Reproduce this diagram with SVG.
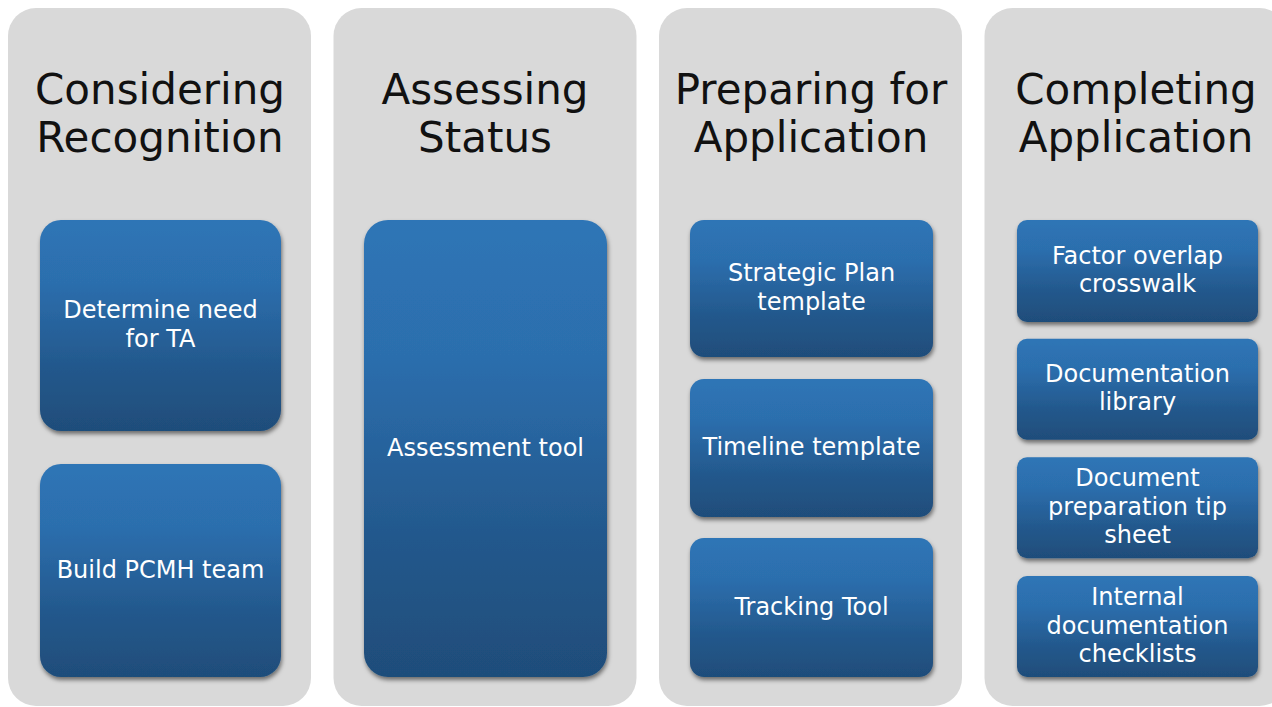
<svg xmlns="http://www.w3.org/2000/svg" width="1272" height="707" viewBox="0 0 1272 707">
  <defs>
    <linearGradient id="boxFill" x1="0" y1="0" x2="0" y2="1">
      <stop offset="0" stop-color="#2E75B6"/>
      <stop offset="0.3" stop-color="#2C6EAD"/>
      <stop offset="0.7" stop-color="#23588C"/>
      <stop offset="1" stop-color="#1F4D7A"/>
    </linearGradient>
    <filter id="boxShadow" x="-10%" y="-10%" width="120%" height="125%">
      <feDropShadow dx="1" dy="3" stdDeviation="2.2" flood-color="#000" flood-opacity="0.5"/>
    </filter>
  </defs>
  <style>
    .col { fill: #D9D9D9; }
    .box { fill: url(#boxFill); filter: url(#boxShadow); }
    .title { font-family: "DejaVu Sans", "Liberation Sans", sans-serif; font-size: 42px; fill: #111111; text-anchor: middle; }
    .label { font-family: "DejaVu Sans", "Liberation Sans", sans-serif; font-size: 24px; fill: #FFFFFF; text-anchor: middle; }
  </style>

  <rect width="1272" height="707" fill="#FFFFFF"/>

  <!-- Column 1: Considering Recognition -->
  <g id="considering-recognition">
    <rect class="col" x="8" y="8" width="303" height="698" rx="28"/>
    <text class="title" x="160" y="104">Considering</text>
    <text class="title" x="160" y="151.5">Recognition</text>
    <g id="determine-need">
      <rect class="box" x="40" y="220" width="241" height="211" rx="21"/>
      <text class="label" x="160.5" y="318.3">Determine need</text>
      <text class="label" x="160.5" y="346.7">for TA</text>
    </g>
    <g id="build-team">
      <rect class="box" x="40" y="464" width="241" height="213" rx="21"/>
      <text class="label" x="160.5" y="577.5">Build PCMH team</text>
    </g>
  </g>

  <!-- Column 2: Assessing Status -->
  <g id="assessing-status">
    <rect class="col" x="333.5" y="8" width="303" height="698" rx="28"/>
    <text class="title" x="485" y="104">Assessing</text>
    <text class="title" x="485" y="151.5">Status</text>
    <g id="assessment-tool">
      <rect class="box" x="364" y="220" width="243" height="457" rx="24"/>
      <text class="label" x="485.5" y="455.5">Assessment tool</text>
    </g>
  </g>

  <!-- Column 3: Preparing for Application -->
  <g id="preparing-application">
    <rect class="col" x="659" y="8" width="303" height="698" rx="28"/>
    <text class="title" x="811" y="104">Preparing for</text>
    <text class="title" x="811" y="151.5">Application</text>
    <g id="strategic-plan">
      <rect class="box" x="690" y="220" width="243" height="137" rx="14"/>
      <text class="label" x="811.5" y="281.3">Strategic Plan</text>
      <text class="label" x="811.5" y="309.7">template</text>
    </g>
    <g id="timeline-template">
      <rect class="box" x="690" y="379" width="243" height="138" rx="14"/>
      <text class="label" x="811.5" y="455">Timeline template</text>
    </g>
    <g id="tracking-tool">
      <rect class="box" x="690" y="538" width="243" height="139" rx="14"/>
      <text class="label" x="811.5" y="614.5">Tracking Tool</text>
    </g>
  </g>

  <!-- Column 4: Completing Application -->
  <g id="completing-application">
    <rect class="col" x="984.5" y="8" width="303" height="698" rx="28"/>
    <text class="title" x="1136" y="104">Completing</text>
    <text class="title" x="1136" y="151.5">Application</text>
    <g id="factor-crosswalk">
      <rect class="box" x="1017" y="220" width="241" height="102" rx="10"/>
      <text class="label" x="1137.5" y="263.8">Factor overlap</text>
      <text class="label" x="1137.5" y="292.2">crosswalk</text>
    </g>
    <g id="documentation-library">
      <rect class="box" x="1017" y="338.7" width="241" height="101" rx="10"/>
      <text class="label" x="1137.5" y="382">Documentation</text>
      <text class="label" x="1137.5" y="410.4">library</text>
    </g>
    <g id="tip-sheet">
      <rect class="box" x="1017" y="457.3" width="241" height="101" rx="10"/>
      <text class="label" x="1137.5" y="486.4">Document</text>
      <text class="label" x="1137.5" y="514.8">preparation tip</text>
      <text class="label" x="1137.5" y="543.2">sheet</text>
    </g>
    <g id="internal-checklists">
      <rect class="box" x="1017" y="576" width="241" height="101" rx="10"/>
      <text class="label" x="1137.5" y="605.1">Internal</text>
      <text class="label" x="1137.5" y="633.5">documentation</text>
      <text class="label" x="1137.5" y="661.9">checklists</text>
    </g>
  </g>

  <!-- no connectors in this layout -->
  <g id="connectors"/>
</svg>
